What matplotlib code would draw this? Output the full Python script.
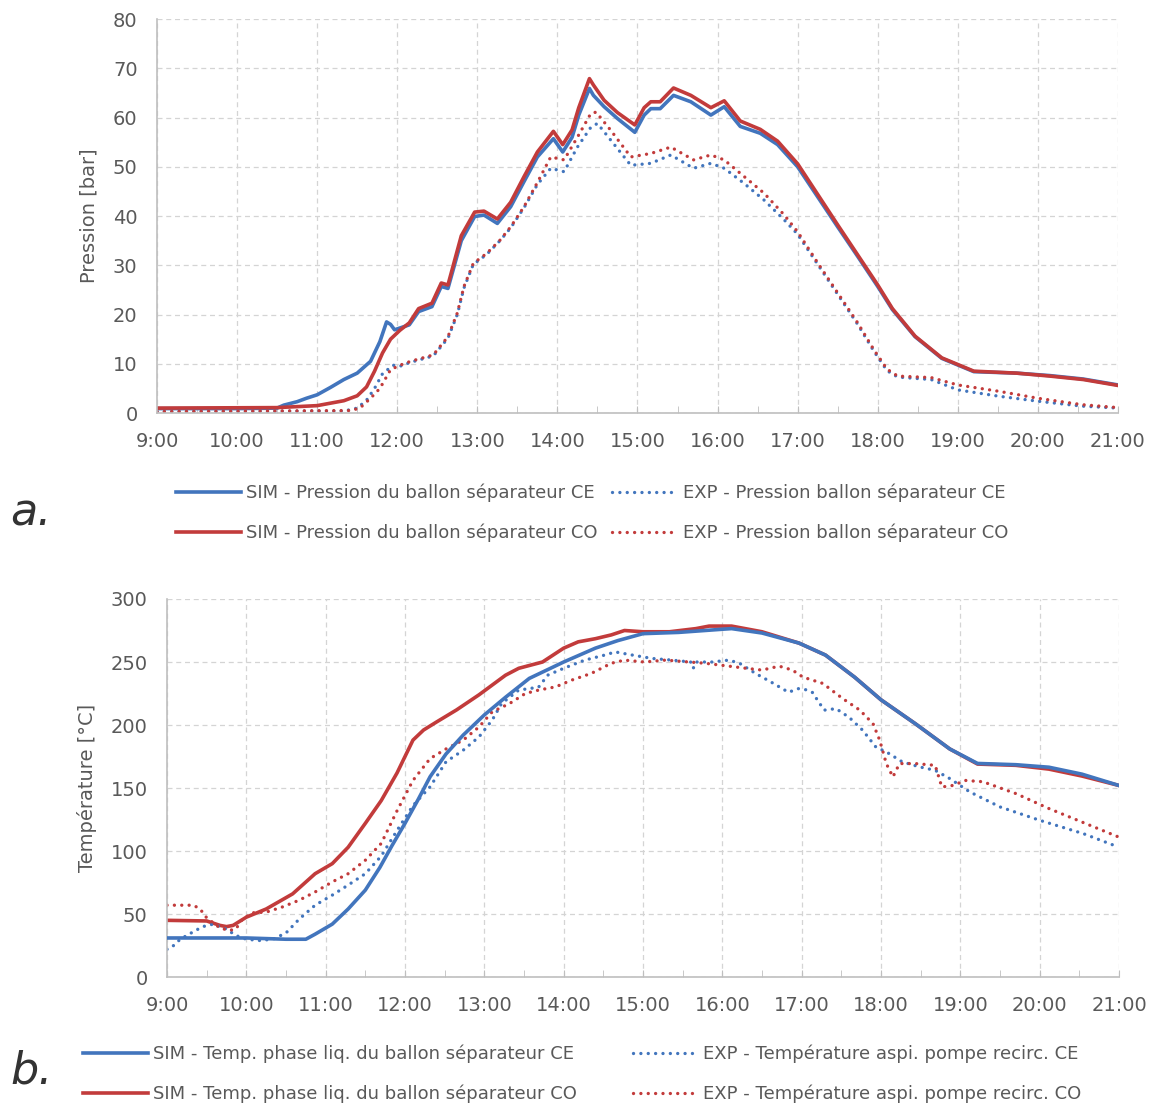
import matplotlib
matplotlib.use("Agg")
import matplotlib.pyplot as plt
from matplotlib.ticker import FuncFormatter, MultipleLocator

# --- data (time "H:MM", value) ---
p_sim_ce_t = ["9:00", "10:00", "10:30", "10:35", "10:45", "10:52", "11:00", "11:10", "11:20", "11:30",
              "11:40", "11:47", "11:52", "11:55", "11:58", "12:09", "12:16", "12:26", "12:33", "12:38",
              "12:48", "12:58", "13:05", "13:15", "13:25", "13:35", "13:45", "13:57", "14:04", "14:11",
              "14:16", "14:24", "14:27", "14:35", "14:45", "14:58", "15:05", "15:10", "15:17", "15:27",
              "15:40", "15:55", "16:05", "16:17", "16:32", "16:45", "17:00", "17:15", "17:30", "17:45",
              "18:00", "18:11", "18:28", "18:48", "19:12", "19:44", "20:09", "20:34", "21:00"]
p_sim_ce = [0.9, 0.9, 1.0, 1.6, 2.3, 3.0, 3.7, 5.2, 6.8, 8.1,
            10.5, 14.5, 18.5, 18.0, 16.9, 17.9, 20.6, 21.6, 25.7, 25.3,
            35.0, 39.9, 40.2, 38.5, 41.9, 47.0, 52.0, 55.7, 53.0, 56.0,
            60.5, 65.9, 64.5, 62.2, 59.8, 57.0, 60.5, 61.8, 61.8, 64.5,
            63.2, 60.5, 62.2, 58.2, 56.8, 54.5, 50.0, 43.9, 37.8, 31.8,
            25.7, 21.0, 15.5, 11.1, 8.4, 8.1, 7.6, 6.9, 5.7]

p_sim_co_t = ["9:00", "10:30", "11:00", "11:20", "11:30", "11:37", "11:43", "11:49", "11:55", "12:02",
              "12:09", "12:16", "12:26", "12:33", "12:38", "12:48", "12:58", "13:05", "13:15", "13:25",
              "13:35", "13:45", "13:57", "14:04", "14:11", "14:16", "14:24", "14:27", "14:35", "14:45",
              "14:58", "15:05", "15:10", "15:17", "15:27", "15:40", "15:55", "16:05", "16:17", "16:32",
              "16:45", "17:00", "17:15", "17:30", "17:45", "18:00", "18:11", "18:28", "18:48", "19:12",
              "19:44", "20:09", "20:34", "21:00"]
p_sim_co = [1.0, 1.1, 1.5, 2.5, 3.5, 5.3, 8.5, 12.2, 15.0, 16.8,
            18.3, 21.2, 22.3, 26.4, 26.0, 36.0, 40.8, 41.0, 39.4, 42.8,
            48.0, 53.0, 57.2, 54.5, 57.5, 62.0, 67.9, 66.6, 63.5, 61.0,
            58.5, 62.0, 63.2, 63.2, 66.0, 64.5, 62.0, 63.4, 59.3, 57.6,
            55.2, 50.6, 44.4, 38.2, 32.1, 26.0, 21.2, 15.6, 11.2, 8.5,
            8.1, 7.5, 6.8, 5.6]

p_exp_ce_t = ["9:00", "11:20", "11:30", "11:37", "11:43", "11:49", "11:57", "12:02", "12:10", "12:27",
              "12:38", "12:45", "12:50", "12:57", "13:07", "13:17", "13:25", "13:35", "13:45", "13:55",
              "14:05", "14:15", "14:25", "14:30", "14:40", "14:55", "15:10", "15:25", "15:42", "15:55",
              "16:05", "16:20", "16:35", "16:50", "17:00", "17:15", "17:30", "17:45", "17:57", "18:07",
              "18:15", "18:40", "19:00", "19:31", "20:00", "20:33", "21:00"]
p_exp_ce = [0.3, 0.4, 1.0, 2.6, 5.0, 8.0, 9.7, 9.5, 10.3, 11.6,
            15.2, 20.0, 25.4, 30.2, 32.2, 35.0, 37.6, 41.7, 46.4, 49.7,
            49.0, 54.0, 58.0, 58.8, 55.4, 50.3, 50.7, 52.4, 49.7, 50.7,
            49.7, 46.6, 43.2, 39.2, 36.3, 30.2, 24.1, 18.0, 12.6, 8.6,
            7.3, 6.8, 4.7, 3.4, 2.4, 1.4, 1.0]

p_exp_co_t = ["9:00", "11:25", "11:32", "11:40", "11:47", "11:55", "12:02", "12:10", "12:27", "12:38",
              "12:45", "12:50", "12:57", "13:07", "13:17", "13:25", "13:35", "13:45", "13:55", "14:05",
              "14:15", "14:25", "14:29", "14:40", "14:55", "15:10", "15:25", "15:42", "15:55", "16:05",
              "16:20", "16:35", "16:50", "17:00", "17:15", "17:30", "17:45", "17:57", "18:07", "18:15",
              "18:40", "19:00", "19:31", "20:00", "20:33", "21:00"]
p_exp_co = [0.3, 0.5, 1.0, 3.0, 5.0, 8.8, 9.7, 10.5, 11.8, 15.5,
            20.3, 25.7, 30.4, 32.4, 35.1, 37.8, 41.9, 46.8, 52.0, 51.4,
            56.0, 60.8, 61.1, 57.4, 52.0, 52.7, 54.0, 51.4, 52.4, 51.4,
            48.0, 44.6, 40.2, 36.8, 30.5, 24.4, 18.3, 12.9, 8.9, 7.5,
            7.2, 5.7, 4.4, 3.0, 1.7, 1.1]

t_sim_ce_t = ["9:00", "10:00", "10:30", "10:45", "10:52", "11:05", "11:17", "11:30", "11:41", "11:50",
              "12:00", "12:10", "12:19", "12:31", "12:44", "13:00", "13:16", "13:34", "14:00", "14:24",
              "14:41", "15:00", "15:27", "16:00", "16:07", "16:30", "16:58", "17:18", "17:40", "18:00",
              "18:26", "18:52", "19:13", "19:42", "20:07", "20:32", "21:00"]
t_sim_ce = [31, 31, 30, 30, 34, 42, 54, 69, 87, 104,
            122, 141, 159, 177, 192, 208, 222, 237, 250, 261,
            267, 272.5, 273.5, 276, 276.5, 273, 265, 255.5, 238, 220,
            201, 181, 169.5, 168.5, 166.5, 161, 152]

t_sim_co_t = ["9:00", "9:30", "9:40", "9:45", "9:50", "10:00", "10:15", "10:35", "10:52", "11:05",
              "11:17", "11:30", "11:42", "11:54", "12:06", "12:14", "12:24", "12:39", "12:56", "13:16",
              "13:26", "13:44", "14:00", "14:11", "14:24", "14:36", "14:46", "15:00", "15:20", "15:40",
              "15:50", "16:07", "16:30", "16:58", "17:18", "17:40", "18:00", "18:26", "18:52", "19:13",
              "19:42", "20:07", "20:32", "21:00"]
t_sim_co = [45, 44.5, 41, 40, 41, 47.5, 54, 66, 82, 90,
            103, 122, 140, 162, 188, 196, 202.5, 212, 224, 239.5,
            245, 250, 261, 266, 268.5, 271.5, 275, 274, 274, 276.5,
            278.5, 278.5, 274, 265, 255.5, 238, 220, 201, 181, 169,
            168, 165, 159.5, 152]

t_exp_ce_t = ["9:00", "9:05", "9:10", "9:20", "9:27", "9:35", "9:45", "9:52", "10:00", "10:10",
              "10:20", "10:30", "10:40", "10:52", "11:05", "11:17", "11:30", "11:42", "11:55", "12:06",
              "12:19", "12:31", "12:44", "12:56", "13:06", "13:13", "13:26", "13:41", "13:48", "14:00",
              "14:16", "14:31", "14:39", "14:52", "15:07", "15:22", "15:36", "15:38", "15:40", "15:52",
              "16:05", "16:13", "16:25", "16:37", "16:50", "16:58", "17:03", "17:08", "17:17", "17:26",
              "17:36", "17:46", "17:56", "18:06", "18:16", "18:29", "18:41", "18:52", "19:07", "19:30",
              "20:00", "20:33", "21:00"]
t_exp_ce = [22, 25, 30, 36, 40, 42, 38, 33, 30, 29,
            30, 35, 46, 57, 65, 73, 82, 96, 118, 136,
            151, 170.8, 180, 190.6, 204, 217, 227.7, 230, 239.6, 245,
            251.5, 255.5, 258, 255.5, 252.8, 251.5, 250, 245, 250, 250,
            251.5, 249, 241, 234, 226, 229, 228, 226, 211.8, 213,
            206, 196, 182.7, 177.4, 170.8, 166.8, 164, 157.5, 147, 135,
            124.4, 113.8, 103]

t_exp_co_t = ["9:00", "9:20", "9:25", "9:30", "9:35", "9:40", "9:47", "9:52", "9:57", "10:05",
              "10:15", "10:27", "10:40", "10:52", "11:05", "11:17", "11:30", "11:42", "11:54", "12:06",
              "12:19", "12:31", "12:44", "12:56", "13:06", "13:19", "13:31", "13:41", "13:54", "14:06",
              "14:21", "14:36", "14:46", "15:01", "15:17", "15:35", "15:47", "16:05", "16:18", "16:30",
              "16:43", "16:53", "17:01", "17:16", "17:31", "17:44", "17:54", "17:59", "18:04", "18:09",
              "18:14", "18:26", "18:41", "18:46", "18:54", "19:04", "19:17", "19:42", "20:07", "20:32",
              "21:00"]
t_exp_co = [57, 57, 54, 47, 43, 39, 37, 38, 46, 51,
            51.5, 55.5, 61, 67.5, 75.5, 82, 92.7, 106, 132, 156,
            173.4, 181, 188, 198.5, 210.5, 217, 225, 227.7, 230.3, 235.6,
            241, 249, 251.5, 250, 251.5, 250, 249, 246.7, 245, 243.6,
            246.7, 243.6, 238, 233, 221, 211.8, 201, 188, 169.4, 158.8,
            169.4, 169.4, 168, 150.8, 152, 156, 155, 145.6, 133.7, 123,
            111]

labels_a = ["SIM - Pression du ballon séparateur CE", "SIM - Pression du ballon séparateur CO",
            "EXP - Pression ballon séparateur CE", "EXP - Pression ballon séparateur CO"]
labels_b = ["SIM - Temp. phase liq. du ballon séparateur CE", "SIM - Temp. phase liq. du ballon séparateur CO",
            "EXP - Température aspi. pompe recirc. CE", "EXP - Température aspi. pompe recirc. CO"]

BLUE = "#4275BD"
RED = "#C23B3B"
GREY = "#595959"
DOT = (0, (0.01, 2.2))

plt.rcParams['font.family'] = ['DejaVu Sans']


def hours(ts):
    out = []
    for s in ts:
        h, m = s.split(":")
        out.append(int(h) + int(m) / 60)
    return out


def dotted(ax, t, v, color):
    line, = ax.plot(hours(t), v, color=color, lw=2.4, linestyle=DOT,
                    dash_capstyle='round')
    return line


def style_axes(ax, ymax, ystep, ylabel):
    ax.set_xlim(9, 21)
    ax.set_ylim(0, ymax)
    ax.xaxis.set_major_locator(MultipleLocator(1))
    ax.xaxis.set_minor_locator(MultipleLocator(0.5))
    ax.yaxis.set_major_locator(MultipleLocator(ystep))
    ax.xaxis.set_major_formatter(FuncFormatter(lambda v, p: f"{int(round(v))}:00"))
    ax.grid(True, which='major', color='#D4D4D4', linestyle=(0, (4, 3)), linewidth=0.9)
    for s in ['top', 'right']:
        ax.spines[s].set_visible(False)
    for s in ['left', 'bottom']:
        ax.spines[s].set_color('#BFBFBF')
        ax.spines[s].set_linewidth(1.2)
    ax.tick_params(axis='x', which='both', direction='in', length=5, color='#BFBFBF',
                   labelsize=14, labelcolor=GREY, pad=14)
    ax.tick_params(axis='y', length=0, labelsize=14, labelcolor=GREY, pad=14)
    ax.set_ylabel(ylabel, fontsize=14, color=GREY, labelpad=10)


fig = plt.figure(figsize=(11.51, 11.07), dpi=100)
ax1 = fig.add_axes([0.1364, 0.6269, 0.8349, 0.3559])
ax2 = fig.add_axes([0.1451, 0.1174, 0.8271, 0.3415])

l1, = ax1.plot(hours(p_sim_ce_t), p_sim_ce, color=BLUE, lw=2.6)
l2, = ax1.plot(hours(p_sim_co_t), p_sim_co, color=RED, lw=2.6)
l3 = dotted(ax1, p_exp_ce_t, p_exp_ce, BLUE)
l4 = dotted(ax1, p_exp_co_t, p_exp_co, RED)
style_axes(ax1, 80, 10, "Pression [bar]")

m1, = ax2.plot(hours(t_sim_ce_t), t_sim_ce, color=BLUE, lw=2.6)
m2, = ax2.plot(hours(t_sim_co_t), t_sim_co, color=RED, lw=2.6)
m3 = dotted(ax2, t_exp_ce_t, t_exp_ce, BLUE)
m4 = dotted(ax2, t_exp_co_t, t_exp_co, RED)
m1.set_zorder(3)
style_axes(ax2, 300, 50, "Température [°C]")

leg_kw = dict(ncol=2, frameon=False, fontsize=13, handlelength=3.6, handletextpad=0.3,
              labelspacing=1.2, labelcolor=GREY, borderaxespad=0)
fig.legend([l1, l2, l3, l4], labels_a, loc='center', bbox_to_anchor=(592 / 1151, 1 - 513 / 1107),
           columnspacing=0.8, **leg_kw)
fig.legend([m1, m2, m3, m4], labels_b, loc='center', bbox_to_anchor=(582 / 1151, 1 - 1074 / 1107),
           columnspacing=3.1, **leg_kw)

fig.text(10 / 1151, 1 - 525 / 1107, "a.", fontsize=32, style='italic', color='#333333',
         va='baseline', ha='left')
fig.text(10 / 1151, 1 - 1083 / 1107, "b.", fontsize=32, style='italic', color='#333333',
         va='baseline', ha='left')

fig.savefig("out.png", dpi=100)
